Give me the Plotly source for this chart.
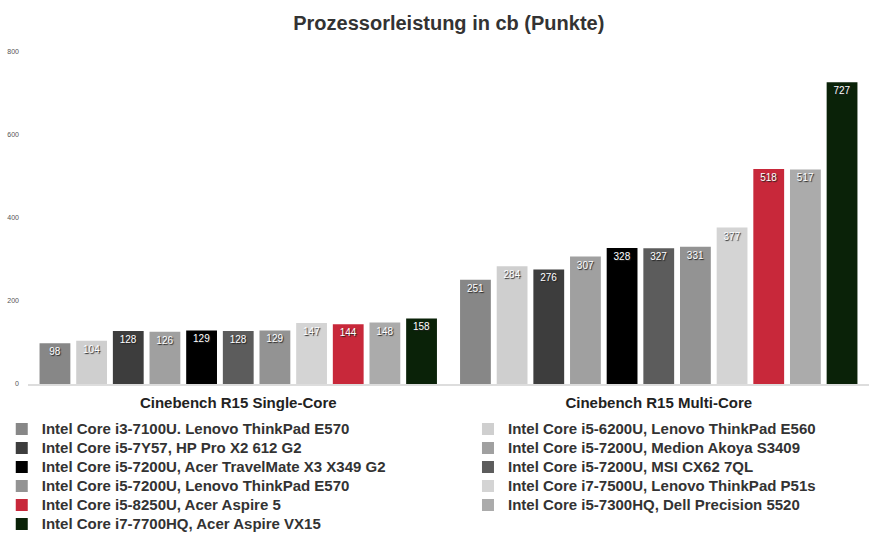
import plotly.graph_objects as go

categories = ["Cinebench R15 Single-Core", "Cinebench R15 Multi-Core"]
series_names = [
    "Intel Core i3-7100U. Lenovo ThinkPad E570",
    "Intel Core i5-6200U, Lenovo ThinkPad E560",
    "Intel Core i5-7Y57, HP Pro X2 612 G2",
    "Intel Core i5-7200U, Medion Akoya S3409",
    "Intel Core i5-7200U, Acer TravelMate X3 X349 G2",
    "Intel Core i5-7200U, MSI CX62 7QL",
    "Intel Core i5-7200U, Lenovo ThinkPad E570",
    "Intel Core i7-7500U, Lenovo ThinkPad P51s",
    "Intel Core i5-8250U, Acer Aspire 5",
    "Intel Core i5-7300HQ, Dell Precision 5520",
    "Intel Core i7-7700HQ, Acer Aspire VX15",
]
single_core = [98, 104, 128, 126, 129, 128, 129, 147, 144, 148, 158]
multi_core = [251, 284, 276, 307, 328, 327, 331, 377, 518, 517, 727]
colors = ["#878787", "#cfcfcf", "#3d3d3d", "#a0a0a0", "#000000", "#5c5c5c",
          "#939393", "#d4d4d4", "#c8283a", "#ababab", "#0a2208"]
y_ticks = [0, 200, 400, 600, 800]

FONT = "Liberation Sans, Arial, sans-serif"

fig = go.Figure()
for i, name in enumerate(series_names):
    vals = [single_core[i], multi_core[i]]
    fig.add_trace(go.Bar(
        x=categories, y=vals,
        name="<span style='font-size:15px'>" + name + "</span>",
        legend="legend" if i % 2 == 0 else "legend2",
        marker=dict(color=colors[i], line=dict(width=0)),
        text=[str(v) for v in vals],
        textposition="inside", insidetextanchor="end",
        textangle=0,
        textfont=dict(family=FONT, size=10, color="#ffffff", shadow="1px 1px 1px #222"),
        cliponaxis=False,
    ))

legend_common = dict(orientation="v", yanchor="top", xanchor="left",
                     xref="container", yref="container",
                     tracegroupgap=0, itemclick=False, traceorder="normal",
                     bgcolor="rgba(0,0,0,0)",
                     font=dict(family=FONT, size=11.5, color="#333333", weight="bold"))

fig.update_layout(
    width=880, height=540,
    margin=dict(l=28, r=11, t=52, b=156, autoexpand=False),
    paper_bgcolor="white", plot_bgcolor="white",
    barmode="group", bargap=0.041, bargroupgap=0.16,
    uniformtext=dict(minsize=8, mode="show"),
    title=dict(text="<b>Prozessorleistung in cb (Punkte)</b>",
               x=0.51, xanchor="center", y=0.958, yanchor="middle",
               font=dict(family=FONT, size=20, color="#333333")),
    font=dict(family=FONT),
    showlegend=True,
    legend=dict(x=0.002, y=0.2323, **legend_common),
    legend2=dict(x=0.5318, y=0.2323, **legend_common),
)
fig.update_xaxes(showline=True, linecolor="#dddddd", linewidth=2,
                 ticks="", showgrid=False, automargin=False,
                 ticklabelstandoff=4,
                 tickfont=dict(family=FONT, size=15, color="#222222", weight="bold"))
fig.update_yaxes(range=[0, 800], tickvals=y_ticks, ticktext=[str(t) for t in y_ticks],
                 showgrid=False, zeroline=False, showline=False, automargin=False,
                 tickfont=dict(family=FONT, size=7, color="#555555"),
                 ticklabelstandoff=8)

fig.write_html("out.html")
